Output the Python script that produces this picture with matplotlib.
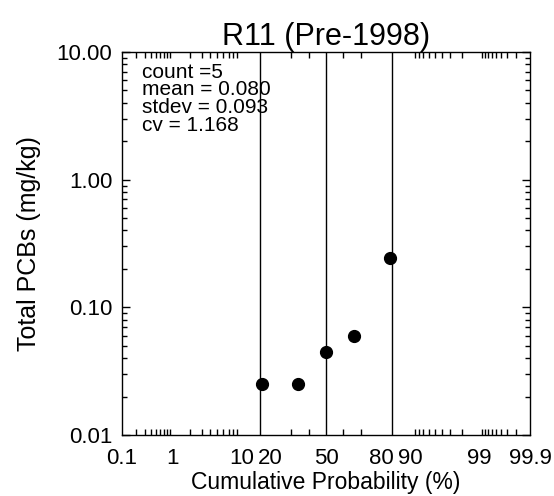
import numpy as np
import matplotlib
matplotlib.use('Agg')
import matplotlib.pyplot as plt
from statistics import NormalDist

plt.rcParams['font.family'] = ['Liberation Sans', 'DejaVu Sans']

# data
prob = [16.7, 33.3, 50.0, 66.7, 83.3]          # cumulative probability (%)
pcb = [0.025, 0.025, 0.045, 0.060, 0.245]      # total PCBs (mg/kg)
sig_lines = [15.87, 50.0, 84.13]               # -1 sd, median, +1 sd
stats_txt = ['count =5', 'mean = 0.080', 'stdev = 0.093', 'cv = 1.168']

xlab_pos = [0.1, 1, 10, 20, 50, 80, 90, 99, 99.9]
xlab_txt = ['0.1', '1', '10', '20', '50', '80', '90', '99', '99.9']
xminor = ([0.1*k for k in range(1, 10)] + [1.0*k for k in range(1, 10)] +
          [10.0*k for k in range(1, 10)] + [90 + k for k in range(1, 10)] +
          [99 + 0.1*k for k in range(1, 10)])
ylab_pos = [0.01, 0.1, 1, 10]
ylab_txt = ['0.01', '0.10', '1.00', '10.00']

nd = NormalDist()
_ppf = np.vectorize(nd.inv_cdf)
_cdf = np.vectorize(nd.cdf)

def fwd(p):
    p = np.clip(np.asarray(p, dtype=float) / 100.0, 1e-9, 1 - 1e-9)
    return _ppf(p)

def inv(z):
    return _cdf(np.asarray(z, dtype=float)) * 100.0

fig = plt.figure(figsize=(5.54, 4.96), dpi=100)
ax = fig.add_axes([122/554, 1 - 435/496, 408/554, 383/496])
ax.set_xscale('function', functions=(fwd, inv))
ax.set_yscale('log')
ax.set_xlim(0.1, 99.9)
ax.set_ylim(0.01, 10)

for v in sig_lines:
    ax.axvline(v, color='black', lw=1.0)
ax.plot(prob, pcb, 'o', color='black', ms=8.5, zorder=3)

ax.set_xticks(xlab_pos)
ax.set_xticklabels(xlab_txt)
ax.set_xticks(xminor, minor=True)
ax.set_yticks(ylab_pos)
ax.set_yticklabels(ylab_txt)

ax.xaxis.set_ticks_position('both')
ax.yaxis.set_ticks_position('both')
ax.tick_params(which='both', direction='in', width=1.0)
ax.tick_params(axis='x', which='major', length=0, pad=9)
ax.tick_params(axis='x', which='minor', length=4)
ax.tick_params(axis='y', which='major', length=6, pad=7)
ax.tick_params(axis='y', which='minor', length=3.5)
ax.tick_params(labelsize=16)

for s in ax.spines.values():
    s.set_linewidth(1.0)

ax.set_title('R11 (Pre-1998)', fontsize=22, pad=5)
ax.set_xlabel('Cumulative Probability (%)', fontsize=16.5, labelpad=2)
ax.set_ylabel('Total PCBs (mg/kg)', fontsize=18, labelpad=11)

for i, t in enumerate(stats_txt):
    ax.text(0.05, 0.972 - i*0.0462, t, transform=ax.transAxes, fontsize=15,
            va='top', ha='left')

fig.savefig('out.png', dpi=100)
